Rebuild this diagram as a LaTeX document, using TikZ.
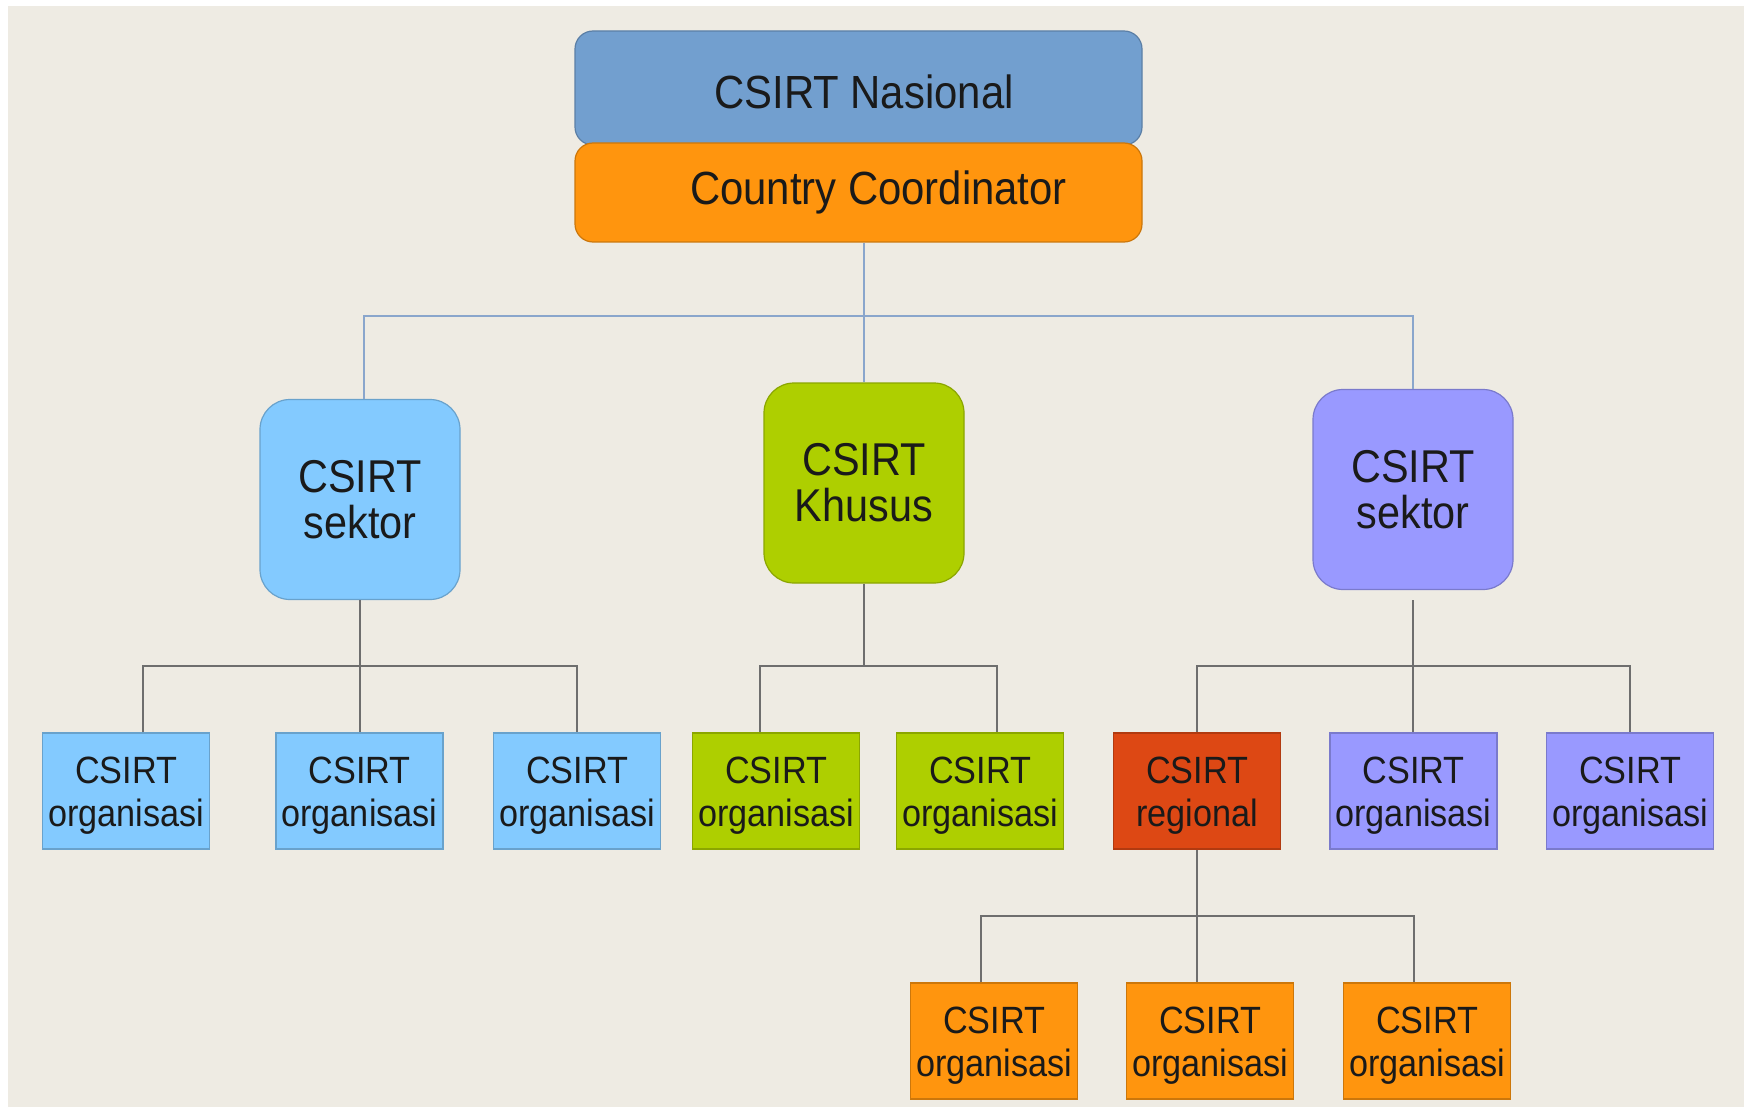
\documentclass[tikz,border=0pt]{standalone}
\usepackage{fontspec}
\setmainfont{Liberation Sans}[FakeStretch=0.9]
\usetikzlibrary{calc}
\definecolor{bg}{HTML}{EEEBE3}
\definecolor{nasblue}{HTML}{729FCF}
\definecolor{ccorange}{HTML}{FF950E}
\definecolor{lblue}{HTML}{83CAFF}
\definecolor{lgreen}{HTML}{AECF00}
\definecolor{lpurple}{HTML}{9999FF}
\definecolor{lred}{HTML}{DD4814}
\definecolor{txt}{HTML}{1A1A1A}
\definecolor{topline}{HTML}{8AA6CC}
\definecolor{subline}{HTML}{6E6E6E}
\newcommand\shiftdown[2]{\raisebox{-#1}[\height][\depth]{#2}}
\newcommand\orgtxt[2]{\shiftdown{5.5pt}{\begin{tabular}{@{}c@{}}#1\\#2\end{tabular}}}
\tikzset{
  box/.style={draw=#1!80!black, fill=#1, line width=1.2pt, text=txt, align=center, inner sep=0pt},
  topbox/.style={box=#1, rounded corners=18pt, minimum width=567pt, font=\fontsize{46.5}{46.5}\selectfont},
  sekbox/.style={box=#1, rounded corners=30pt, minimum width=200pt, minimum height=200pt, font=\fontsize{46}{46}\selectfont},
  orgbox/.style={box=#1, minimum width=167pt, minimum height=116pt, font=\fontsize{38}{43}\selectfont},
  topconn/.style={draw=topline, line width=2pt},
  subconn/.style={draw=subline, line width=2pt},
}
\begin{document}
\begin{tikzpicture}[x=1pt,y=-1pt]
\useasboundingbox (0,0) rectangle (1750,1107);
\fill[white] (0,0) rectangle (1750,1107);
\fill[bg] (8,6) rectangle (1744,1107);
% top
\node[topbox=nasblue, minimum height=114pt] (nas) at (858.5,88) {\hspace*{11pt}\shiftdown{4pt}{CSIRT Nasional}};
\node[topbox=ccorange, minimum height=99pt,
  label={[font=\fontsize{46.5}{46.5}\selectfont, text=txt, xshift=20pt]center:Country Coordinator}] (cc) at (858.5,192.5) {};
% level 1
\node[sekbox=lblue] (sek1) at (360,499.5) {CSIRT\\sektor};
\node[sekbox=lgreen] (khu) at (864,483) {CSIRT\\Khusus};
\node[sekbox=lpurple] (sek2) at (1413,489.5) {CSIRT\\sektor};
% level 2
\node[orgbox=lblue] (o1) at (126,791) {\orgtxt{CSIRT}{organisasi}};
\node[orgbox=lblue] (o2) at (359.5,791) {\orgtxt{CSIRT}{organisasi}};
\node[orgbox=lblue] (o3) at (577,791) {\orgtxt{CSIRT}{organisasi}};
\node[orgbox=lgreen] (k1) at (776,791) {\orgtxt{CSIRT}{organisasi}};
\node[orgbox=lgreen] (k2) at (980,791) {\orgtxt{CSIRT}{organisasi}};
\node[orgbox=lred] (reg) at (1197,791) {\orgtxt{CSIRT}{regional}};
\node[orgbox=lpurple] (p1) at (1413.5,791) {\orgtxt{CSIRT}{organisasi}};
\node[orgbox=lpurple] (p2) at (1630,791) {\orgtxt{CSIRT}{organisasi}};
% level 3
\node[orgbox=ccorange] (r1) at (994,1041) {\orgtxt{CSIRT}{organisasi}};
\node[orgbox=ccorange] (r2) at (1210,1041) {\orgtxt{CSIRT}{organisasi}};
\node[orgbox=ccorange] (r3) at (1427,1041) {\orgtxt{CSIRT}{organisasi}};
% top connectors
\coordinate (tb) at ([yshift=66pt]khu.north);
\draw[topconn] (khu.north |- cc.south) -- (khu.north);
\draw[topconn] ([xshift=4pt]sek1.north) |- (sek2.north |- tb) -- (sek2.north);
% sektor 1
\draw[subconn] (sek1.south) -- (sek1.south |- o2.north);
\draw[subconn] ([xshift=17pt]o1.north) |- ([yshift=66pt]o3.north) -- (o3.north);
% khusus
\coordinate (kb) at ([yshift=66pt]k1.north);
\draw[subconn] (khu.south) -- (khu.south |- kb);
\draw[subconn] ([xshift=-16pt]k1.north) |- ([yshift=66pt,xshift=17pt]k2.north) -- ([xshift=17pt]k2.north);
% sektor 2
\draw[subconn] ([yshift=-10pt]sek2.south) -- (sek2.south |- p1.north);
\draw[subconn] (reg.north) |- ([yshift=66pt]p2.north) -- (p2.north);
% regional
\draw[subconn] (reg.south) -- (reg.south |- r2.north);
\draw[subconn] ([xshift=-13pt]r1.north) |- ([yshift=66pt,xshift=-13pt]r3.north) -- ([xshift=-13pt]r3.north);
\end{tikzpicture}
\end{document}
